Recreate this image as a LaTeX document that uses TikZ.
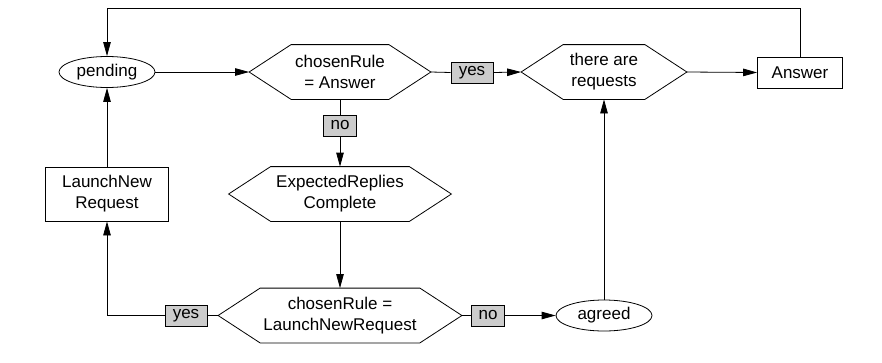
\documentclass[tikz,border=0pt]{standalone}
\usepackage{fontspec}
\setmainfont{Liberation Sans}
\usetikzlibrary{arrows.meta,calc,shapes.geometric}
\definecolor{lblgray}{HTML}{CCCCCC}
\begin{document}
\begin{tikzpicture}[x=1pt,y=-1pt,
  font=\fontsize{17}{21}\selectfont,
  line width=0.8pt,
  arr/.style={-{Triangle[length=14pt,width=7.5pt]}},
  ell/.style={draw, ellipse, minimum width=96pt, minimum height=31pt, inner sep=0pt},
  box/.style={draw, rectangle, inner sep=0pt, align=center},
  hexa/.style={rectangle, inner sep=0pt, align=center, minimum height=54pt},
  lbl/.style={draw, fill=lblgray, inner sep=0pt, minimum height=21pt}]
\useasboundingbox (0,0) rectangle (882,362);

% nodes
\node[ell] (pend) at (107,72) {pending};
\node[hexa, minimum width=97pt] (q1) at (340,72) {chosenRule\\= Answer};
\node[hexa, minimum width=81pt] (q2) at (604,72) {there are\\requests};
\node[box, minimum width=85pt, minimum height=31pt] (ans) at (800,72.5) {Answer};
\node[hexa, minimum width=138pt] (q3) at (340,194) {ExpectedReplies\\Complete};
\node[box, minimum width=123pt, minimum height=54pt] (lnr) at (107,194) {LaunchNew\\Request};
\node[hexa, minimum width=159pt] (q4) at (340,315.5) {chosenRule =\\LaunchNewRequest};
\node[ell] (agr) at (604,315.5) {agreed};

% hexagon outlines
\foreach \h in {q1,q2,q3,q4}{
  \coordinate (\h w) at ($(\h.west)+(-42,0)$);
  \coordinate (\h e) at ($(\h.east)+(42,0)$);
  \draw (\h.north west) -- (\h.north east) -- (\h e) -- (\h.south east)
        -- (\h.south west) -- (\h w) -- cycle;
}

% labels
\node[lbl, minimum width=42pt] (yes1) at (472,72.5) {yes};
\node[lbl, minimum width=33pt] (no1) at (340,125.5) {no};
\node[lbl, minimum width=42pt] (yes2) at (186,315.5) {yes};
\node[lbl, minimum width=33pt] (no2) at (488,315.5) {no};
\coordinate (topy) at (0,8);

% connectors
\draw[arr] (pend.east) -- (q1w);
\draw (q1e) -- (yes1.west);
\draw[arr] (yes1.east) -- (q2w);
\draw[arr] (q2e) -- (ans.west);
\draw[arr] (ans.north) |- (pend.north |- topy) -- (pend.north);
\draw (q1.south) -- (no1.north);
\draw[arr] (no1.south) -- (q3.north);
\draw[arr] (q3.south) -- (q4.north);
\draw (q4w) -- (yes2.east);
\draw[arr] (yes2.west) -| (lnr.south);
\draw[arr] (lnr.north) -- (pend.south);
\draw (q4e) -- (no2.west);
\draw[arr] (no2.east) -- (agr.west);
\draw[arr] (agr.north) -- (q2.south);
\end{tikzpicture}
\end{document}
